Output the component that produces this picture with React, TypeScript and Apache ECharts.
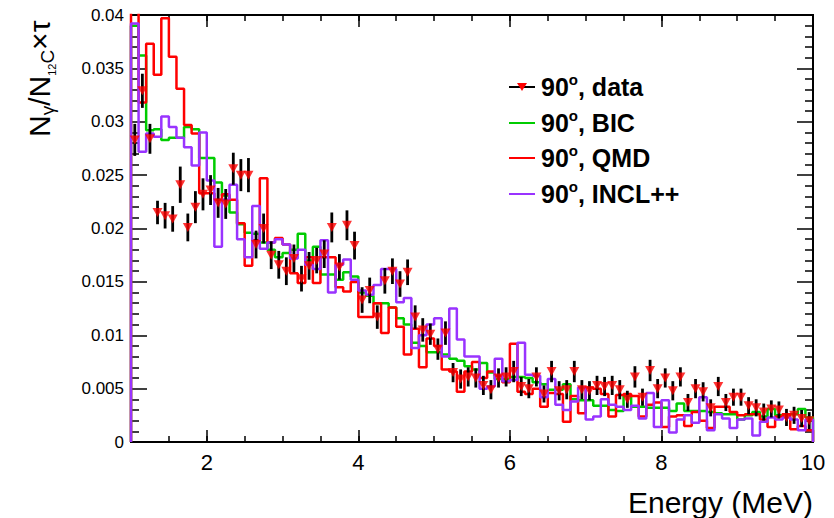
import React, { useEffect, useRef } from 'react';
import * as echarts from 'echarts';

const X_MIN = 1;
const X_MAX = 10;
const BIN_WIDTH = 0.1;

const xTickLabels = [2, 4, 6, 8, 10];
const legendNames = ['data', 'BIC', 'QMD', 'INCL++'];

const dataValues = [
  0.0283, 0.0329, 0.0284, 0.0215, 0.0212, 0.0209, 0.0241, 0.0201, 0.0220, 0.0232,
  0.0236, 0.0224, 0.0223, 0.0256, 0.0250, 0.0250, 0.0185, 0.0200, 0.0175, 0.0166,
  0.0160, 0.0172, 0.0153, 0.0165, 0.0170, 0.0176, 0.0201, 0.0164, 0.0203, 0.0184,
  0.0133, 0.0142, 0.0117, 0.0151, 0.0160, 0.0148, 0.0159, 0.0117, 0.0105, 0.0101,
  0.0087, 0.0102, 0.0065, 0.0059, 0.0061, 0.0060, 0.0053, 0.0049, 0.0060, 0.0061,
  0.0066, 0.0052, 0.0050, 0.0061, 0.0045, 0.0066, 0.0048, 0.0049, 0.0066, 0.0049,
  0.0048, 0.0053, 0.0052, 0.0053, 0.0049, 0.0040, 0.0061, 0.0042, 0.0067, 0.0050,
  0.0060, 0.0048, 0.0061, 0.0037, 0.0050, 0.0047, 0.0032, 0.0052, 0.0037, 0.0042,
  0.0042, 0.0034, 0.0032, 0.0028, 0.0031, 0.0030, 0.0023, 0.0025, 0.0022, 0.0020,
];

const dataErrors = [
  0.0015, 0.0016, 0.0014, 0.0011, 0.0012, 0.0012, 0.0017, 0.0013, 0.0015, 0.0015,
  0.0014, 0.0014, 0.0014, 0.0015, 0.0015, 0.0016, 0.0013, 0.0014, 0.0013, 0.0013,
  0.0013, 0.0013, 0.0012, 0.0013, 0.0012, 0.0013, 0.0014, 0.0012, 0.0014, 0.0013,
  0.0012, 0.0012, 0.0011, 0.0012, 0.0012, 0.0012, 0.0012, 0.0011, 0.0011, 0.0010,
  0.0010, 0.0011, 0.0009, 0.0009, 0.0009, 0.0009, 0.0009, 0.0009, 0.0009, 0.0009,
  0.0010, 0.0009, 0.0009, 0.0009, 0.0008, 0.0010, 0.0009, 0.0009, 0.0010, 0.0009,
  0.0009, 0.0009, 0.0009, 0.0009, 0.0009, 0.0008, 0.0010, 0.0008, 0.0010, 0.0009,
  0.0009, 0.0009, 0.0009, 0.0008, 0.0009, 0.0009, 0.0008, 0.0009, 0.0008, 0.0008,
  0.0008, 0.0008, 0.0008, 0.0008, 0.0008, 0.0008, 0.0008, 0.0008, 0.0008, 0.0008,
];

const bicValues = [
  0.0390, 0.0362, 0.0292, 0.0293, 0.0283, 0.0285, 0.0285, 0.0295, 0.0293, 0.0266,
  0.0266, 0.0243, 0.0231, 0.0215, 0.0204, 0.0196, 0.0195, 0.0187, 0.0180, 0.0173,
  0.0177, 0.0180, 0.0195, 0.0170, 0.0183, 0.0157, 0.0157, 0.0152, 0.0159, 0.0155,
  0.0140, 0.0137, 0.0130, 0.0130, 0.0126, 0.0116, 0.0110, 0.0093, 0.0090, 0.0084,
  0.0084, 0.0082, 0.0078, 0.0076, 0.0071, 0.0068, 0.0074, 0.0065, 0.0059, 0.0059,
  0.0061, 0.0061, 0.0060, 0.0056, 0.0054, 0.0049, 0.0049, 0.0054, 0.0040, 0.0039,
  0.0039, 0.0034, 0.0034, 0.0030, 0.0029, 0.0043, 0.0033, 0.0033, 0.0032, 0.0032,
  0.0032, 0.0029, 0.0036, 0.0029, 0.0029, 0.0029, 0.0028, 0.0027, 0.0026, 0.0026,
  0.0021, 0.0025, 0.0028, 0.0024, 0.0031, 0.0025, 0.0026, 0.0026, 0.0031, 0.0023,
];

const qmdValues = [
  0.0420, 0.0318, 0.0373, 0.0344, 0.0397, 0.0361, 0.0331, 0.0297, 0.0289, 0.0233,
  0.0233, 0.0227, 0.0232, 0.0227, 0.0205, 0.0165, 0.0189, 0.0247, 0.0187, 0.0191,
  0.0185, 0.0158, 0.0149, 0.0173, 0.0149, 0.0173, 0.0173, 0.0145, 0.0141, 0.0150,
  0.0117, 0.0117, 0.0130, 0.0102, 0.0126, 0.0108, 0.0082, 0.0106, 0.0070, 0.0097,
  0.0090, 0.0068, 0.0066, 0.0047, 0.0066, 0.0075, 0.0060, 0.0066, 0.0062, 0.0056,
  0.0092, 0.0047, 0.0045, 0.0050, 0.0033, 0.0046, 0.0045, 0.0019, 0.0043, 0.0027,
  0.0051, 0.0050, 0.0045, 0.0024, 0.0044, 0.0045, 0.0043, 0.0024, 0.0035, 0.0037,
  0.0014, 0.0024, 0.0025, 0.0015, 0.0028, 0.0020, 0.0013, 0.0033, 0.0033, 0.0028,
  0.0025, 0.0026, 0.0026, 0.0021, 0.0014, 0.0024, 0.0026, 0.0012, 0.0015, 0.0011,
];

const inclValues = [
  0.0392, 0.0272, 0.0289, 0.0286, 0.0305, 0.0295, 0.0285, 0.0276, 0.0259, 0.0290,
  0.0245, 0.0183, 0.0227, 0.0241, 0.0190, 0.0173, 0.0221, 0.0181, 0.0187, 0.0190,
  0.0185, 0.0172, 0.0180, 0.0166, 0.0162, 0.0189, 0.0140, 0.0166, 0.0171, 0.0152,
  0.0142, 0.0138, 0.0147, 0.0162, 0.0162, 0.0131, 0.0135, 0.0088, 0.0100, 0.0110,
  0.0116, 0.0080, 0.0125, 0.0096, 0.0080, 0.0080, 0.0050, 0.0052, 0.0078, 0.0057,
  0.0058, 0.0093, 0.0063, 0.0062, 0.0042, 0.0059, 0.0035, 0.0030, 0.0038, 0.0051,
  0.0021, 0.0024, 0.0040, 0.0035, 0.0033, 0.0030, 0.0034, 0.0022, 0.0046, 0.0014,
  0.0039, 0.0009, 0.0021, 0.0025, 0.0018, 0.0042, 0.0011, 0.0026, 0.0022, 0.0013,
  0.0021, 0.0022, 0.0006, 0.0019, 0.0023, 0.0021, 0.0023, 0.0021, 0.0011, 0.0021,
];

const COLORS = { data: '#ff0000', bic: '#00cc00', qmd: '#ff0000', incl: '#9933ff' };
const FONT = '"Liberation Sans", Arial, Helvetica, sans-serif';

function histPoints(values: number[]) {
  const pts: number[][] = [[X_MIN, 0]];
  values.forEach((v, i) => pts.push([X_MIN + i * BIN_WIDTH, v]));
  pts.push([X_MAX, values[values.length - 1]]);
  pts.push([X_MAX, 0]);
  return pts;
}

function histSeries(name: string, values: number[], color: string, z: number) {
  return {
    name,
    type: 'line',
    step: 'end',
    xAxisIndex: 0,
    yAxisIndex: 0,
    symbol: 'none',
    clip: true,
    z,
    lineStyle: { color, width: 2.5 },
    data: histPoints(values),
  };
}

export default function App() {
  const ref = useRef<HTMLDivElement>(null);
  useEffect(() => {
    if (!ref.current) return;
    const chart = echarts.init(ref.current, null, { renderer: 'svg' });
    const centers = dataValues.map((_, i) => X_MIN + (i + 0.5) * BIN_WIDTH);

    const baseX = {
      type: 'value',
      min: X_MIN,
      max: X_MAX,
      gridIndex: 0,
      axisLine: { show: false },
      splitLine: { show: false },
    };

    const legendRowsY = [87, 123, 158, 194];
    const legendColors = ['#000000', COLORS.bic, COLORS.qmd, COLORS.incl];
    const legendGraphics: any[] = [];
    legendNames.forEach((nm, i) => {
      const y = legendRowsY[i];
      legendGraphics.push({
        type: 'line',
        shape: { x1: 509, y1: y, x2: 535, y2: y },
        style: { stroke: legendColors[i], lineWidth: 2 },
        z: 100,
      });
      if (i === 0) {
        legendGraphics.push({
          type: 'polygon',
          shape: { points: [[517, y - 4], [527, y - 4], [522, y + 4]] },
          style: { fill: COLORS.data },
          z: 101,
        });
      }
      legendGraphics.push({
        type: 'text',
        x: 541,
        y: y,
        z: 100,
        style: {
          text: '{b|90}{s|o}{b|, ' + nm + '}',
          textAlign: 'left',
          textVerticalAlign: 'middle',
          align: 'left',
          verticalAlign: 'middle',
          rich: {
            b: { fontSize: 25, fontWeight: 'bold', fontFamily: FONT, fill: '#000', lineHeight: 30, verticalAlign: 'middle' },
            s: { fontSize: 15, fontWeight: 'bold', fontFamily: FONT, fill: '#000', lineHeight: 18, verticalAlign: 'top' },
          },
        },
      });
    });

    const option: any = {
      animation: false,
      backgroundColor: '#ffffff',
      grid: {
        left: 131,
        right: 21,
        top: 15,
        bottom: 76,
        show: true,
        borderColor: '#000',
        borderWidth: 2,
        backgroundColor: 'transparent',
        containLabel: false,
      },
      xAxis: [
        {
          ...baseX,
          position: 'bottom',
          axisTick: { show: true, inside: true, length: 12, customValues: xTickLabels, lineStyle: { color: '#000', width: 1.5 } },
          axisLabel: { show: true, customValues: xTickLabels, fontSize: 22, color: '#000', margin: 9, fontFamily: FONT },
        },
        {
          ...baseX,
          position: 'bottom',
          interval: 0.5,
          axisTick: { show: true, inside: true, length: 6, lineStyle: { color: '#000', width: 1.5 } },
          axisLabel: { show: false },
        },
        {
          ...baseX,
          position: 'top',
          axisTick: { show: true, inside: true, length: 12, customValues: xTickLabels, lineStyle: { color: '#000', width: 1.5 } },
          axisLabel: { show: false, customValues: xTickLabels },
        },
        {
          ...baseX,
          position: 'top',
          interval: 0.5,
          axisTick: { show: true, inside: true, length: 6, lineStyle: { color: '#000', width: 1.5 } },
          axisLabel: { show: false },
        },
      ],
      yAxis: [
        {
          type: 'value',
          min: 0,
          max: 0.04,
          interval: 0.005,
          position: 'left',
          axisLine: { show: false },
          splitLine: { show: false },
          axisTick: { show: true, inside: true, length: 16, lineStyle: { color: '#000', width: 1.5 } },
          minorTick: { show: true, splitNumber: 5, length: 8, lineStyle: { color: '#000', width: 1.5 } },
          axisLabel: {
            fontSize: 17,
            color: '#000',
            margin: 7,
            fontFamily: FONT,
            formatter: (v: number) => String(Number(v.toFixed(3))),
          },
        },
        {
          type: 'value',
          min: 0,
          max: 0.04,
          interval: 0.005,
          position: 'right',
          axisLine: { show: false },
          splitLine: { show: false },
          axisTick: { show: true, inside: true, length: 16, lineStyle: { color: '#000', width: 1.5 } },
          minorTick: { show: true, splitNumber: 5, length: 8, lineStyle: { color: '#000', width: 1.5 } },
          axisLabel: { show: false },
        },
      ],
      series: [
        histSeries('90°, BIC', bicValues, COLORS.bic, 2),
        histSeries('90°, QMD', qmdValues, COLORS.qmd, 3),
        histSeries('90°, INCL++', inclValues, COLORS.incl, 4),
        {
          name: 'errors',
          type: 'custom',
          xAxisIndex: 0,
          yAxisIndex: 0,
          z: 5,
          encode: { x: 0, y: [1, 2] },
          data: dataValues.map((v, i) => [centers[i], v - dataErrors[i], v + dataErrors[i]]),
          renderItem: (params: any, api: any) => {
            const x = api.value(0);
            const p1 = api.coord([x, api.value(1)]);
            const p2 = api.coord([x, api.value(2)]);
            return {
              type: 'line',
              shape: { x1: p1[0], y1: p1[1], x2: p2[0], y2: p2[1] },
              style: { stroke: '#000', lineWidth: 2.8 },
            };
          },
        },
        {
          name: '90°, data',
          type: 'scatter',
          xAxisIndex: 0,
          yAxisIndex: 0,
          z: 6,
          symbol: 'triangle',
          symbolRotate: 180,
          symbolSize: [10, 9],
          itemStyle: { color: COLORS.data },
          data: dataValues.map((v, i) => [centers[i], v]),
        },
      ],
      graphic: [
        ...legendGraphics,
        {
          type: 'text',
          x: 813,
          y: 502,
          style: {
            text: 'Energy (MeV)',
            fontSize: 30,
            fontFamily: FONT,
            fill: '#000',
            textAlign: 'right',
            textVerticalAlign: 'middle',
            align: 'right',
            verticalAlign: 'middle',
          },
        },
        {
          type: 'text',
          x: 39,
          y: 137,
          rotation: Math.PI / 2,
          style: {
            text: '{b|N}{sub|γ}{b|/N}{tiny|12}{sub|C}{b|×τ}',
            textAlign: 'left',
            textVerticalAlign: 'middle',
            align: 'left',
            verticalAlign: 'middle',
            rich: {
              b: { fontSize: 30, fontFamily: FONT, fill: '#000', lineHeight: 36, verticalAlign: 'middle' },
              sub: { fontSize: 19, fontFamily: FONT, fill: '#000', lineHeight: 20, verticalAlign: 'bottom' },
              tiny: { fontSize: 11, fontFamily: FONT, fill: '#000', lineHeight: 26, verticalAlign: 'bottom' },
            },
          },
        },
      ],
    };
    chart.setOption(option);
    return () => chart.dispose();
  }, []);
  return <div ref={ref} style={{ position: 'absolute', left: 0, top: 0, width: 834, height: 518, background: '#fff' }} />;
}
